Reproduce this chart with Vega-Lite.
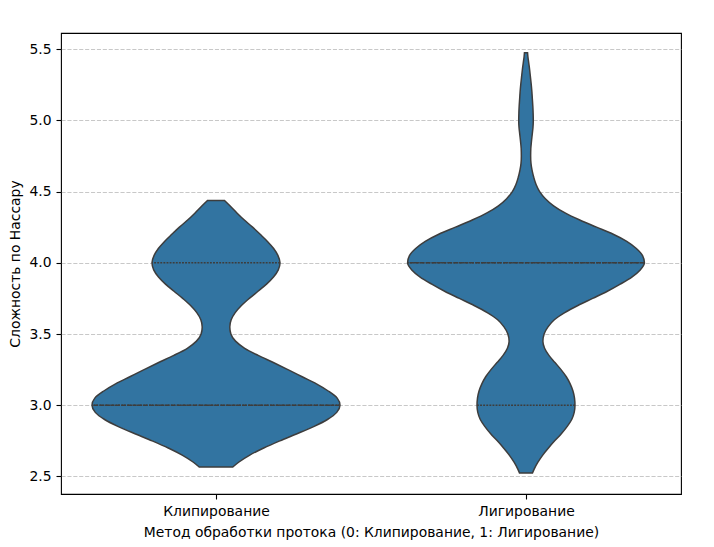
{
  "$schema": "https://vega.github.io/schema/vega-lite/v6.json",
  "width": 620,
  "height": 461,
  "autosize": {"type": "none"},
  "padding": {"left": 61, "top": 33, "right": 33, "bottom": 53},
  "background": "white",
  "config": {
    "view": {"stroke": "black", "strokeWidth": 1.1},
    "font": "DejaVu Sans",
    "axis": {
      "labelFont": "DejaVu Sans", "labelFontSize": 13.9, "labelColor": "black",
      "titleFont": "DejaVu Sans", "titleFontSize": 13.9, "titleFontWeight": "normal", "titleColor": "black",
      "tickColor": "black", "tickSize": 5, "tickWidth": 1.1, "labelPadding": 5,
      "domain": false, "grid": false
    }
  },
  "datasets": {
    "violin": [
      {"method": "Клипирование", "y": 2.566, "w": 0.108},
      {"method": "Клипирование", "y": 2.6, "w": 0.146},
      {"method": "Клипирование", "y": 2.65, "w": 0.218},
      {"method": "Клипирование", "y": 2.7, "w": 0.308},
      {"method": "Клипирование", "y": 2.75, "w": 0.412},
      {"method": "Клипирование", "y": 2.8, "w": 0.523},
      {"method": "Клипирование", "y": 2.85, "w": 0.63},
      {"method": "Клипирование", "y": 2.9, "w": 0.719},
      {"method": "Клипирование", "y": 2.95, "w": 0.779},
      {"method": "Клипирование", "y": 3.0, "w": 0.8},
      {"method": "Клипирование", "y": 3.05, "w": 0.782},
      {"method": "Клипирование", "y": 3.1, "w": 0.724},
      {"method": "Клипирование", "y": 3.15, "w": 0.648},
      {"method": "Клипирование", "y": 3.2, "w": 0.556},
      {"method": "Клипирование", "y": 3.25, "w": 0.464},
      {"method": "Клипирование", "y": 3.3, "w": 0.37},
      {"method": "Клипирование", "y": 3.35, "w": 0.272},
      {"method": "Клипирование", "y": 3.4, "w": 0.185},
      {"method": "Клипирование", "y": 3.45, "w": 0.126},
      {"method": "Клипирование", "y": 3.5, "w": 0.096},
      {"method": "Клипирование", "y": 3.55, "w": 0.089},
      {"method": "Клипирование", "y": 3.6, "w": 0.098},
      {"method": "Клипирование", "y": 3.65, "w": 0.124},
      {"method": "Клипирование", "y": 3.7, "w": 0.164},
      {"method": "Клипирование", "y": 3.75, "w": 0.215},
      {"method": "Клипирование", "y": 3.8, "w": 0.271},
      {"method": "Клипирование", "y": 3.85, "w": 0.326},
      {"method": "Клипирование", "y": 3.9, "w": 0.371},
      {"method": "Клипирование", "y": 3.95, "w": 0.402},
      {"method": "Клипирование", "y": 4.0, "w": 0.413},
      {"method": "Клипирование", "y": 4.05, "w": 0.4},
      {"method": "Клипирование", "y": 4.1, "w": 0.372},
      {"method": "Клипирование", "y": 4.15, "w": 0.332},
      {"method": "Клипирование", "y": 4.2, "w": 0.285},
      {"method": "Клипирование", "y": 4.25, "w": 0.236},
      {"method": "Клипирование", "y": 4.3, "w": 0.183},
      {"method": "Клипирование", "y": 4.35, "w": 0.135},
      {"method": "Клипирование", "y": 4.4, "w": 0.09},
      {"method": "Клипирование", "y": 4.437, "w": 0.055},
      {"method": "Лигирование", "y": 2.525, "w": 0.042},
      {"method": "Лигирование", "y": 2.55, "w": 0.052},
      {"method": "Лигирование", "y": 2.6, "w": 0.077},
      {"method": "Лигирование", "y": 2.65, "w": 0.108},
      {"method": "Лигирование", "y": 2.7, "w": 0.145},
      {"method": "Лигирование", "y": 2.75, "w": 0.185},
      {"method": "Лигирование", "y": 2.8, "w": 0.228},
      {"method": "Лигирование", "y": 2.85, "w": 0.265},
      {"method": "Лигирование", "y": 2.9, "w": 0.295},
      {"method": "Лигирование", "y": 2.95, "w": 0.311},
      {"method": "Лигирование", "y": 3.0, "w": 0.316},
      {"method": "Лигирование", "y": 3.05, "w": 0.313},
      {"method": "Лигирование", "y": 3.1, "w": 0.303},
      {"method": "Лигирование", "y": 3.15, "w": 0.285},
      {"method": "Лигирование", "y": 3.2, "w": 0.26},
      {"method": "Лигирование", "y": 3.25, "w": 0.226},
      {"method": "Лигирование", "y": 3.3, "w": 0.187},
      {"method": "Лигирование", "y": 3.35, "w": 0.148},
      {"method": "Лигирование", "y": 3.4, "w": 0.12},
      {"method": "Лигирование", "y": 3.45, "w": 0.109},
      {"method": "Лигирование", "y": 3.5, "w": 0.117},
      {"method": "Лигирование", "y": 3.55, "w": 0.142},
      {"method": "Лигирование", "y": 3.6, "w": 0.183},
      {"method": "Лигирование", "y": 3.65, "w": 0.25},
      {"method": "Лигирование", "y": 3.7, "w": 0.335},
      {"method": "Лигирование", "y": 3.75, "w": 0.43},
      {"method": "Лигирование", "y": 3.8, "w": 0.525},
      {"method": "Лигирование", "y": 3.85, "w": 0.608},
      {"method": "Лигирование", "y": 3.9, "w": 0.683},
      {"method": "Лигирование", "y": 3.95, "w": 0.737},
      {"method": "Лигирование", "y": 4.0, "w": 0.764},
      {"method": "Лигирование", "y": 4.05, "w": 0.752},
      {"method": "Лигирование", "y": 4.1, "w": 0.712},
      {"method": "Лигирование", "y": 4.15, "w": 0.65},
      {"method": "Лигирование", "y": 4.2, "w": 0.563},
      {"method": "Лигирование", "y": 4.25, "w": 0.455},
      {"method": "Лигирование", "y": 4.3, "w": 0.347},
      {"method": "Лигирование", "y": 4.35, "w": 0.252},
      {"method": "Лигирование", "y": 4.4, "w": 0.178},
      {"method": "Лигирование", "y": 4.45, "w": 0.125},
      {"method": "Лигирование", "y": 4.5, "w": 0.088},
      {"method": "Лигирование", "y": 4.55, "w": 0.065},
      {"method": "Лигирование", "y": 4.6, "w": 0.05},
      {"method": "Лигирование", "y": 4.65, "w": 0.039},
      {"method": "Лигирование", "y": 4.7, "w": 0.032},
      {"method": "Лигирование", "y": 4.75, "w": 0.03},
      {"method": "Лигирование", "y": 4.8, "w": 0.031},
      {"method": "Лигирование", "y": 4.85, "w": 0.035},
      {"method": "Лигирование", "y": 4.9, "w": 0.04},
      {"method": "Лигирование", "y": 4.95, "w": 0.045},
      {"method": "Лигирование", "y": 5.0, "w": 0.047},
      {"method": "Лигирование", "y": 5.05, "w": 0.046},
      {"method": "Лигирование", "y": 5.1, "w": 0.044},
      {"method": "Лигирование", "y": 5.15, "w": 0.041},
      {"method": "Лигирование", "y": 5.2, "w": 0.038},
      {"method": "Лигирование", "y": 5.25, "w": 0.034},
      {"method": "Лигирование", "y": 5.3, "w": 0.029},
      {"method": "Лигирование", "y": 5.35, "w": 0.024},
      {"method": "Лигирование", "y": 5.4, "w": 0.018},
      {"method": "Лигирование", "y": 5.45, "w": 0.012},
      {"method": "Лигирование", "y": 5.474, "w": 0.01}
    ],
    "quart": [
      {"method": "Клипирование", "kind": "median", "y": 3.0, "w": 0.8},
      {"method": "Клипирование", "kind": "quartile", "y": 3.0, "w": 0.8},
      {"method": "Клипирование", "kind": "quartile", "y": 4.0, "w": 0.413},
      {"method": "Лигирование", "kind": "median", "y": 4.0, "w": 0.764},
      {"method": "Лигирование", "kind": "quartile", "y": 3.0, "w": 0.316},
      {"method": "Лигирование", "kind": "quartile", "y": 4.0, "w": 0.764}
    ]
  },
  "encoding": {
    "y": {
      "field": "y", "type": "quantitative",
      "scale": {"domain": [2.377, 5.613], "nice": false, "zero": false},
      "axis": {
        "title": "Сложность по Нассару",
        "values": [2.5, 3.0, 3.5, 4.0, 4.5, 5.0, 5.5],
        "format": ".1f",
        "grid": true, "gridColor": "#b0b0b0", "gridOpacity": 0.7,
        "gridDash": [4.1, 1.8], "gridWidth": 1.1,
        "titlePadding": 6, "labelFlush": false
      }
    }
  },
  "layer": [
    {
      "layer": [
        {
          "data": {"name": "violin"},
          "transform": [{"filter": "datum.method === 'Клипирование'"}],
          "mark": {"type": "area", "orient": "horizontal", "interpolate": "monotone", "fill": "#3274a1", "stroke": "#3d3d3d", "strokeWidth": 1.5},
          "encoding": {
            "x": {"field": "w", "type": "quantitative", "stack": "center", "scale": {"domain": [-0.1, 1.9], "nice": false, "zero": false}, "axis": null}
          }
        },
        {
          "data": {"name": "quart"},
          "transform": [{"filter": "datum.method === 'Клипирование' && datum.kind === 'median'"}],
          "mark": {"type": "rule", "orient": "horizontal", "stroke": "#3d3d3d", "strokeWidth": 1.5, "strokeDash": [3.9, 1.6]},
          "encoding": {
            "x": {"field": "w", "type": "quantitative", "stack": "center", "scale": {"domain": [-0.1, 1.9], "nice": false, "zero": false}, "axis": null}
          }
        },
        {
          "data": {"name": "quart"},
          "transform": [{"filter": "datum.method === 'Клипирование' && datum.kind === 'quartile'"}],
          "mark": {"type": "rule", "orient": "horizontal", "stroke": "#3d3d3d", "strokeWidth": 1.5, "strokeDash": [1.9, 1.2]},
          "encoding": {
            "x": {"field": "w", "type": "quantitative", "stack": "center", "scale": {"domain": [-0.1, 1.9], "nice": false, "zero": false}, "axis": null}
          }
        }
      ]
    },
    {
      "layer": [
        {
          "data": {"name": "violin"},
          "transform": [{"filter": "datum.method === 'Лигирование'"}],
          "mark": {"type": "area", "orient": "horizontal", "interpolate": "monotone", "fill": "#3274a1", "stroke": "#3d3d3d", "strokeWidth": 1.5},
          "encoding": {
            "x": {"field": "w", "type": "quantitative", "stack": "center", "scale": {"domain": [-1.118, 0.882], "nice": false, "zero": false}, "axis": null}
          }
        },
        {
          "data": {"name": "quart"},
          "transform": [{"filter": "datum.method === 'Лигирование' && datum.kind === 'median'"}],
          "mark": {"type": "rule", "orient": "horizontal", "stroke": "#3d3d3d", "strokeWidth": 1.5, "strokeDash": [3.9, 1.6]},
          "encoding": {
            "x": {"field": "w", "type": "quantitative", "stack": "center", "scale": {"domain": [-1.118, 0.882], "nice": false, "zero": false}, "axis": null}
          }
        },
        {
          "data": {"name": "quart"},
          "transform": [{"filter": "datum.method === 'Лигирование' && datum.kind === 'quartile'"}],
          "mark": {"type": "rule", "orient": "horizontal", "stroke": "#3d3d3d", "strokeWidth": 1.5, "strokeDash": [1.9, 1.2]},
          "encoding": {
            "x": {"field": "w", "type": "quantitative", "stack": "center", "scale": {"domain": [-1.118, 0.882], "nice": false, "zero": false}, "axis": null}
          }
        }
      ]
    },
    {
      "data": {"name": "quart"},
      "mark": {"type": "point", "opacity": 0},
      "encoding": {
        "x": {
          "field": "method", "type": "nominal",
          "scale": {"type": "point", "domain": ["Клипирование", "Лигирование"], "padding": 0.5},
          "axis": {"title": "Метод обработки протока (0: Клипирование, 1: Лигирование)", "labelAngle": 0, "titlePadding": 8}
        }
      }
    }
  ],
  "resolve": {"scale": {"x": "independent"}}
}
